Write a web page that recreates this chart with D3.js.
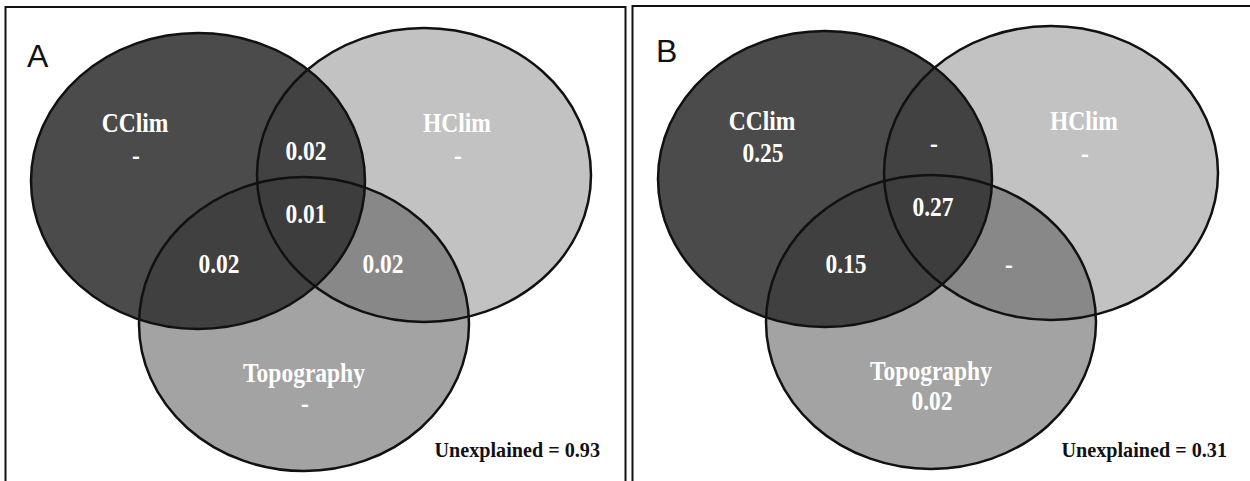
<!DOCTYPE html>
<html>
<head>
<meta charset="utf-8">
<script src="https://cdn.jsdelivr.net/npm/d3@7"></script>
<style>
  html, body { margin: 0; padding: 0; background: #fff; }
  svg { display: block; }
  .lbl { font-family: "Liberation Serif", "Times New Roman", serif; font-weight: bold; fill: #fff; }
  .tag { font-family: "Liberation Sans", Arial, sans-serif; fill: #111; }
  .unx { font-family: "Liberation Serif", "Times New Roman", serif; font-weight: bold; fill: #111; }
</style>
</head>
<body>
<div id="chart"></div>
<script>
// panels and sets
var panels = ["A", "B"];
var sets = ["CClim", "HClim", "Topography"];
// unique fractions per set (CClim, HClim, Topography)
var uniqueValues = [["-", "-", "-"], ["0.25", "-", "0.02"]];
// shared fractions: CClim&HClim, CClim&Topography, HClim&Topography
var pairValues = [["0.02", "0.02", "0.02"], ["-", "0.15", "-"]];
// shared by all three
var tripleValues = ["0.01", "0.27"];
var unexplained = ["0.93", "0.31"];

var W = 1250, H = 481;

var svg = d3.select("#chart").append("svg")
    .attr("width", W)
    .attr("height", H);

var defs = svg.append("defs");

// layout of one panel, in panel units
var panelOrigin = [{x: 0, y: 0}, {x: 627, y: -2}];
var ellipses = [
  {cx: 198, cy: 181, rx: 167, ry: 148},   // CClim
  {cx: 424, cy: 175, rx: 167, ry: 147},   // HClim
  {cx: 304, cy: 324, rx: 165, ry: 147}    // Topography
];
var setFill = ["#4b4b4b", "#c2c2c2", "#a3a3a3"];
var pairFill = ["#424242", "#404040", "#888888"];
var tripleFill = "#3d3d3d";

// label anchors
var setLabelPos = [{x: 135, y: 132}, {x: 457, y: 132}, {x: 304, y: 382}];
var setValueGap = [32, 32, 30];
var pairPos = [
  [{x: 306, y: 160}, {x: 219, y: 273}, {x: 383, y: 273}],
  [{x: 307, y: 154}, {x: 219, y: 275}, {x: 382, y: 275}]
];
var triplePos = [{x: 306, y: 223}, {x: 306, y: 218}];

var boxes = [{x: 5.5, y: 7, w: 620}, {x: 632.5, y: 6, w: 630}];

panels.forEach(function(p, pi) {
  var o = panelOrigin[pi];
  var x = d3.scaleLinear().domain([0, 1]).range([o.x, o.x + 1]);
  var y = d3.scaleLinear().domain([0, 1]).range([o.y, o.y + 1]);

  // panel frame
  svg.append("rect")
      .attr("x", boxes[pi].x)
      .attr("y", boxes[pi].y)
      .attr("width", boxes[pi].w)
      .attr("height", H + 20)
      .attr("fill", "none")
      .attr("stroke", "#111")
      .attr("stroke-width", 2);

  // clip paths for each set
  ellipses.forEach(function(e, i) {
    defs.append("clipPath")
        .attr("id", "clip" + pi + "_" + i)
      .append("ellipse")
        .attr("cx", x(e.cx)).attr("cy", y(e.cy))
        .attr("rx", e.rx).attr("ry", e.ry);
  });

  var g = svg.append("g");

  function ell(sel, i, fill) {
    var e = ellipses[i];
    return sel.append("ellipse")
        .attr("cx", x(e.cx)).attr("cy", y(e.cy))
        .attr("rx", e.rx).attr("ry", e.ry)
        .attr("fill", fill);
  }

  // single sets
  ellipses.forEach(function(e, i) { ell(g, i, setFill[i]); });

  // pairwise overlaps
  var pairs = [[0, 1], [0, 2], [1, 2]];
  pairs.forEach(function(pr, k) {
    var gc = g.append("g").attr("clip-path", "url(#clip" + pi + "_" + pr[0] + ")");
    ell(gc, pr[1], pairFill[k]);
  });

  // triple overlap
  var g1 = g.append("g").attr("clip-path", "url(#clip" + pi + "_0)");
  var g2 = g1.append("g").attr("clip-path", "url(#clip" + pi + "_1)");
  ell(g2, 2, tripleFill);

  // outlines
  ellipses.forEach(function(e, i) {
    ell(g, i, "none").attr("stroke", "#111").attr("stroke-width", 2.5);
  });

  function label(text, px, py, size) {
    g.append("text")
        .attr("class", "lbl")
        .attr("text-anchor", "middle")
        .attr("font-size", size)
        .attr("transform", "translate(" + x(px) + "," + y(py) + ") scale(0.87,1)")
        .text(text);
  }

  sets.forEach(function(s, i) {
    var lp = setLabelPos[i];
    label(s, lp.x, lp.y, 27);
    label(uniqueValues[pi][i], lp.x + 1, lp.y + setValueGap[i], 27);
  });

  pairValues[pi].forEach(function(v, k) {
    label(v, pairPos[pi][k].x, pairPos[pi][k].y, 27);
  });
  label(tripleValues[pi], triplePos[pi].x, triplePos[pi].y, 27);

  // panel letter
  svg.append("text")
      .attr("class", "tag")
      .attr("x", x(pi === 0 ? 27 : 29))
      .attr("y", pi === 0 ? 67 : 62)
      .attr("font-size", 32)
      .text(p);

  // unexplained variation
  svg.append("text")
      .attr("class", "unx")
      .attr("text-anchor", "end")
      .attr("font-size", 21)
      .attr("transform", "translate(" + x(600) + "," + 457 + ") scale(0.96,1)")
      .text("Unexplained = " + unexplained[pi]);
});
</script>
</body>
</html>
